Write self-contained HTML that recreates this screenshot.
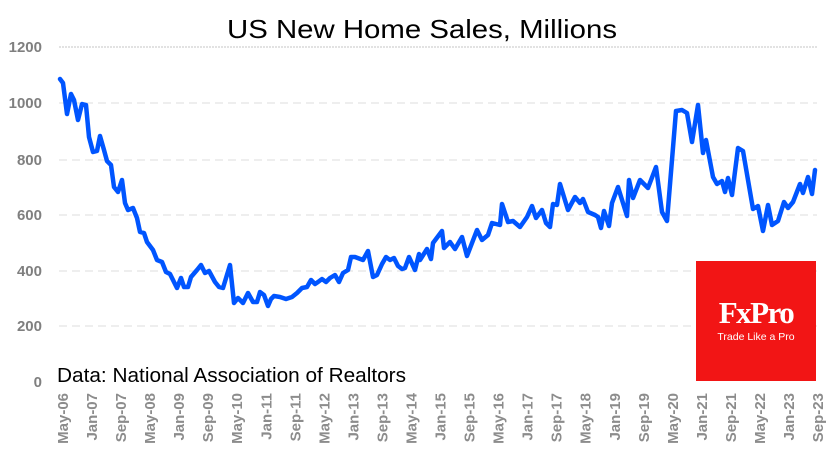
<!DOCTYPE html>
<html><head><meta charset="utf-8"><style>
body{margin:0;background:#fff;}
svg{display:block;font-family:"Liberation Sans",sans-serif;}
</style></head><body>
<svg width="835" height="470" viewBox="0 0 835 470" xmlns="http://www.w3.org/2000/svg">
<rect width="835" height="470" fill="#fff"/>
<text x="422" y="38" text-anchor="middle" font-size="26" fill="#000" textLength="390" lengthAdjust="spacingAndGlyphs">US New Home Sales, Millions</text>
<g stroke="#e3e3e3" stroke-width="1.3" stroke-dasharray="8,5">
<line x1="59" y1="47" x2="817" y2="47" stroke="#d0d0d0" stroke-dasharray="2,1"/>
<line x1="59" y1="103" x2="817" y2="103"/>
<line x1="59" y1="160" x2="817" y2="160"/>
<line x1="59" y1="215" x2="817" y2="215"/>
<line x1="59" y1="271" x2="817" y2="271"/>
<line x1="59" y1="326" x2="817" y2="326"/>
</g>
<g font-size="15" font-weight="bold" fill="#7f7f7f" text-anchor="end">
<text x="42" y="52">1200</text>
<text x="42" y="108">1000</text>
<text x="42" y="165">800</text>
<text x="42" y="220">600</text>
<text x="42" y="276">400</text>
<text x="42" y="331">200</text>
<text x="42" y="387">0</text>
</g>
<text x="57" y="382" font-size="20" fill="#000" textLength="349" lengthAdjust="spacingAndGlyphs">Data: National Association of Realtors</text>
<polyline fill="none" stroke="#0055ff" stroke-width="4.5" stroke-linejoin="round" stroke-linecap="round" points="60,79 63,83 67,114 71,94 74,100 78,120 82,104 86,105 89,137 93,152 97,151 100,136 104,150 107,161 111,165 114,187 118,192 122,180 125,203 128,210 133,208 137,218 140,232 144,233 147,242 153,250 157,260 162,262 166,272 170,274 173,280 177,288 181,278 184,287 188,287 191,277 197,270 201,265 205,273 209,271 215,282 219,287 223,288 230,265 234,303 238,298 243,303 248,293 253,302 257,302 260,292 264,295 268,306 271,299 274,296 280,297 286,299 292,297 297,293 302,288 307,287 311,280 315,284 318,282 322,279 326,282 330,278 335,275 339,282 343,273 348,270 351,257 355,257 363,260 368,251 373,277 377,275 382,264 386,257 390,260 394,258 398,266 402,269 405,268 409,257 415,270 419,254 420,260 427,249 431,259 433,243 442,231 444,248 450,242 455,249 462,237 467,256 477,230 482,240 488,235 492,223 500,225 502,204 508,222 513,221 520,227 527,217 532,206 536,218 542,210 546,223 550,227 553,204 557,205 560,184 568,210 575,197 580,203 583,199 588,212 595,215 598,217 601,228 604,211 609,226 612,203 618,187 627,216 629,180 633,198 640,180 648,188 656,167 662,212 667,221 676,111 682,110 687,113 692,142 698,105 703,153 706,140 713,177 717,184 722,181 725,192 728,178 732,195 738,148 743,151 753,209 758,206 763,231 768,205 772,225 778,221 784,202 788,208 793,202 800,184 803,193 808,177 812,194 815,170"/>
<rect x="696" y="261" width="120" height="120" fill="#f21515"/>
<text x="756" y="323" text-anchor="middle" font-family="Liberation Serif,serif" font-weight="bold" font-size="31" fill="#fff" letter-spacing="-1.5">FxPro</text>
<text x="756" y="340" text-anchor="middle" font-size="10.5" fill="#fff">Trade Like a Pro</text>
<g font-size="15" font-weight="bold" fill="#8c8c8c" text-anchor="end">
<text transform="translate(68,393) rotate(-90)">May-06</text>
<text transform="translate(97,393) rotate(-90)">Jan-07</text>
<text transform="translate(126.1,393) rotate(-90)">Sep-07</text>
<text transform="translate(155.1,393) rotate(-90)">May-08</text>
<text transform="translate(184.2,393) rotate(-90)">Jan-09</text>
<text transform="translate(213.2,393) rotate(-90)">Sep-09</text>
<text transform="translate(242.2,393) rotate(-90)">May-10</text>
<text transform="translate(271.3,393) rotate(-90)">Jan-11</text>
<text transform="translate(300.3,393) rotate(-90)">Sep-11</text>
<text transform="translate(329.4,393) rotate(-90)">May-12</text>
<text transform="translate(358.4,393) rotate(-90)">Jan-13</text>
<text transform="translate(387.4,393) rotate(-90)">Sep-13</text>
<text transform="translate(416.5,393) rotate(-90)">May-14</text>
<text transform="translate(445.5,393) rotate(-90)">Jan-15</text>
<text transform="translate(474.6,393) rotate(-90)">Sep-15</text>
<text transform="translate(503.6,393) rotate(-90)">May-16</text>
<text transform="translate(532.6,393) rotate(-90)">Jan-17</text>
<text transform="translate(561.7,393) rotate(-90)">Sep-17</text>
<text transform="translate(590.7,393) rotate(-90)">May-18</text>
<text transform="translate(619.8,393) rotate(-90)">Jan-19</text>
<text transform="translate(648.8,393) rotate(-90)">Sep-19</text>
<text transform="translate(677.8,393) rotate(-90)">May-20</text>
<text transform="translate(706.9,393) rotate(-90)">Jan-21</text>
<text transform="translate(735.9,393) rotate(-90)">Sep-21</text>
<text transform="translate(765,393) rotate(-90)">May-22</text>
<text transform="translate(794,393) rotate(-90)">Jan-23</text>
<text transform="translate(823,393) rotate(-90)">Sep-23</text>
</g>
</svg>
</body></html>
